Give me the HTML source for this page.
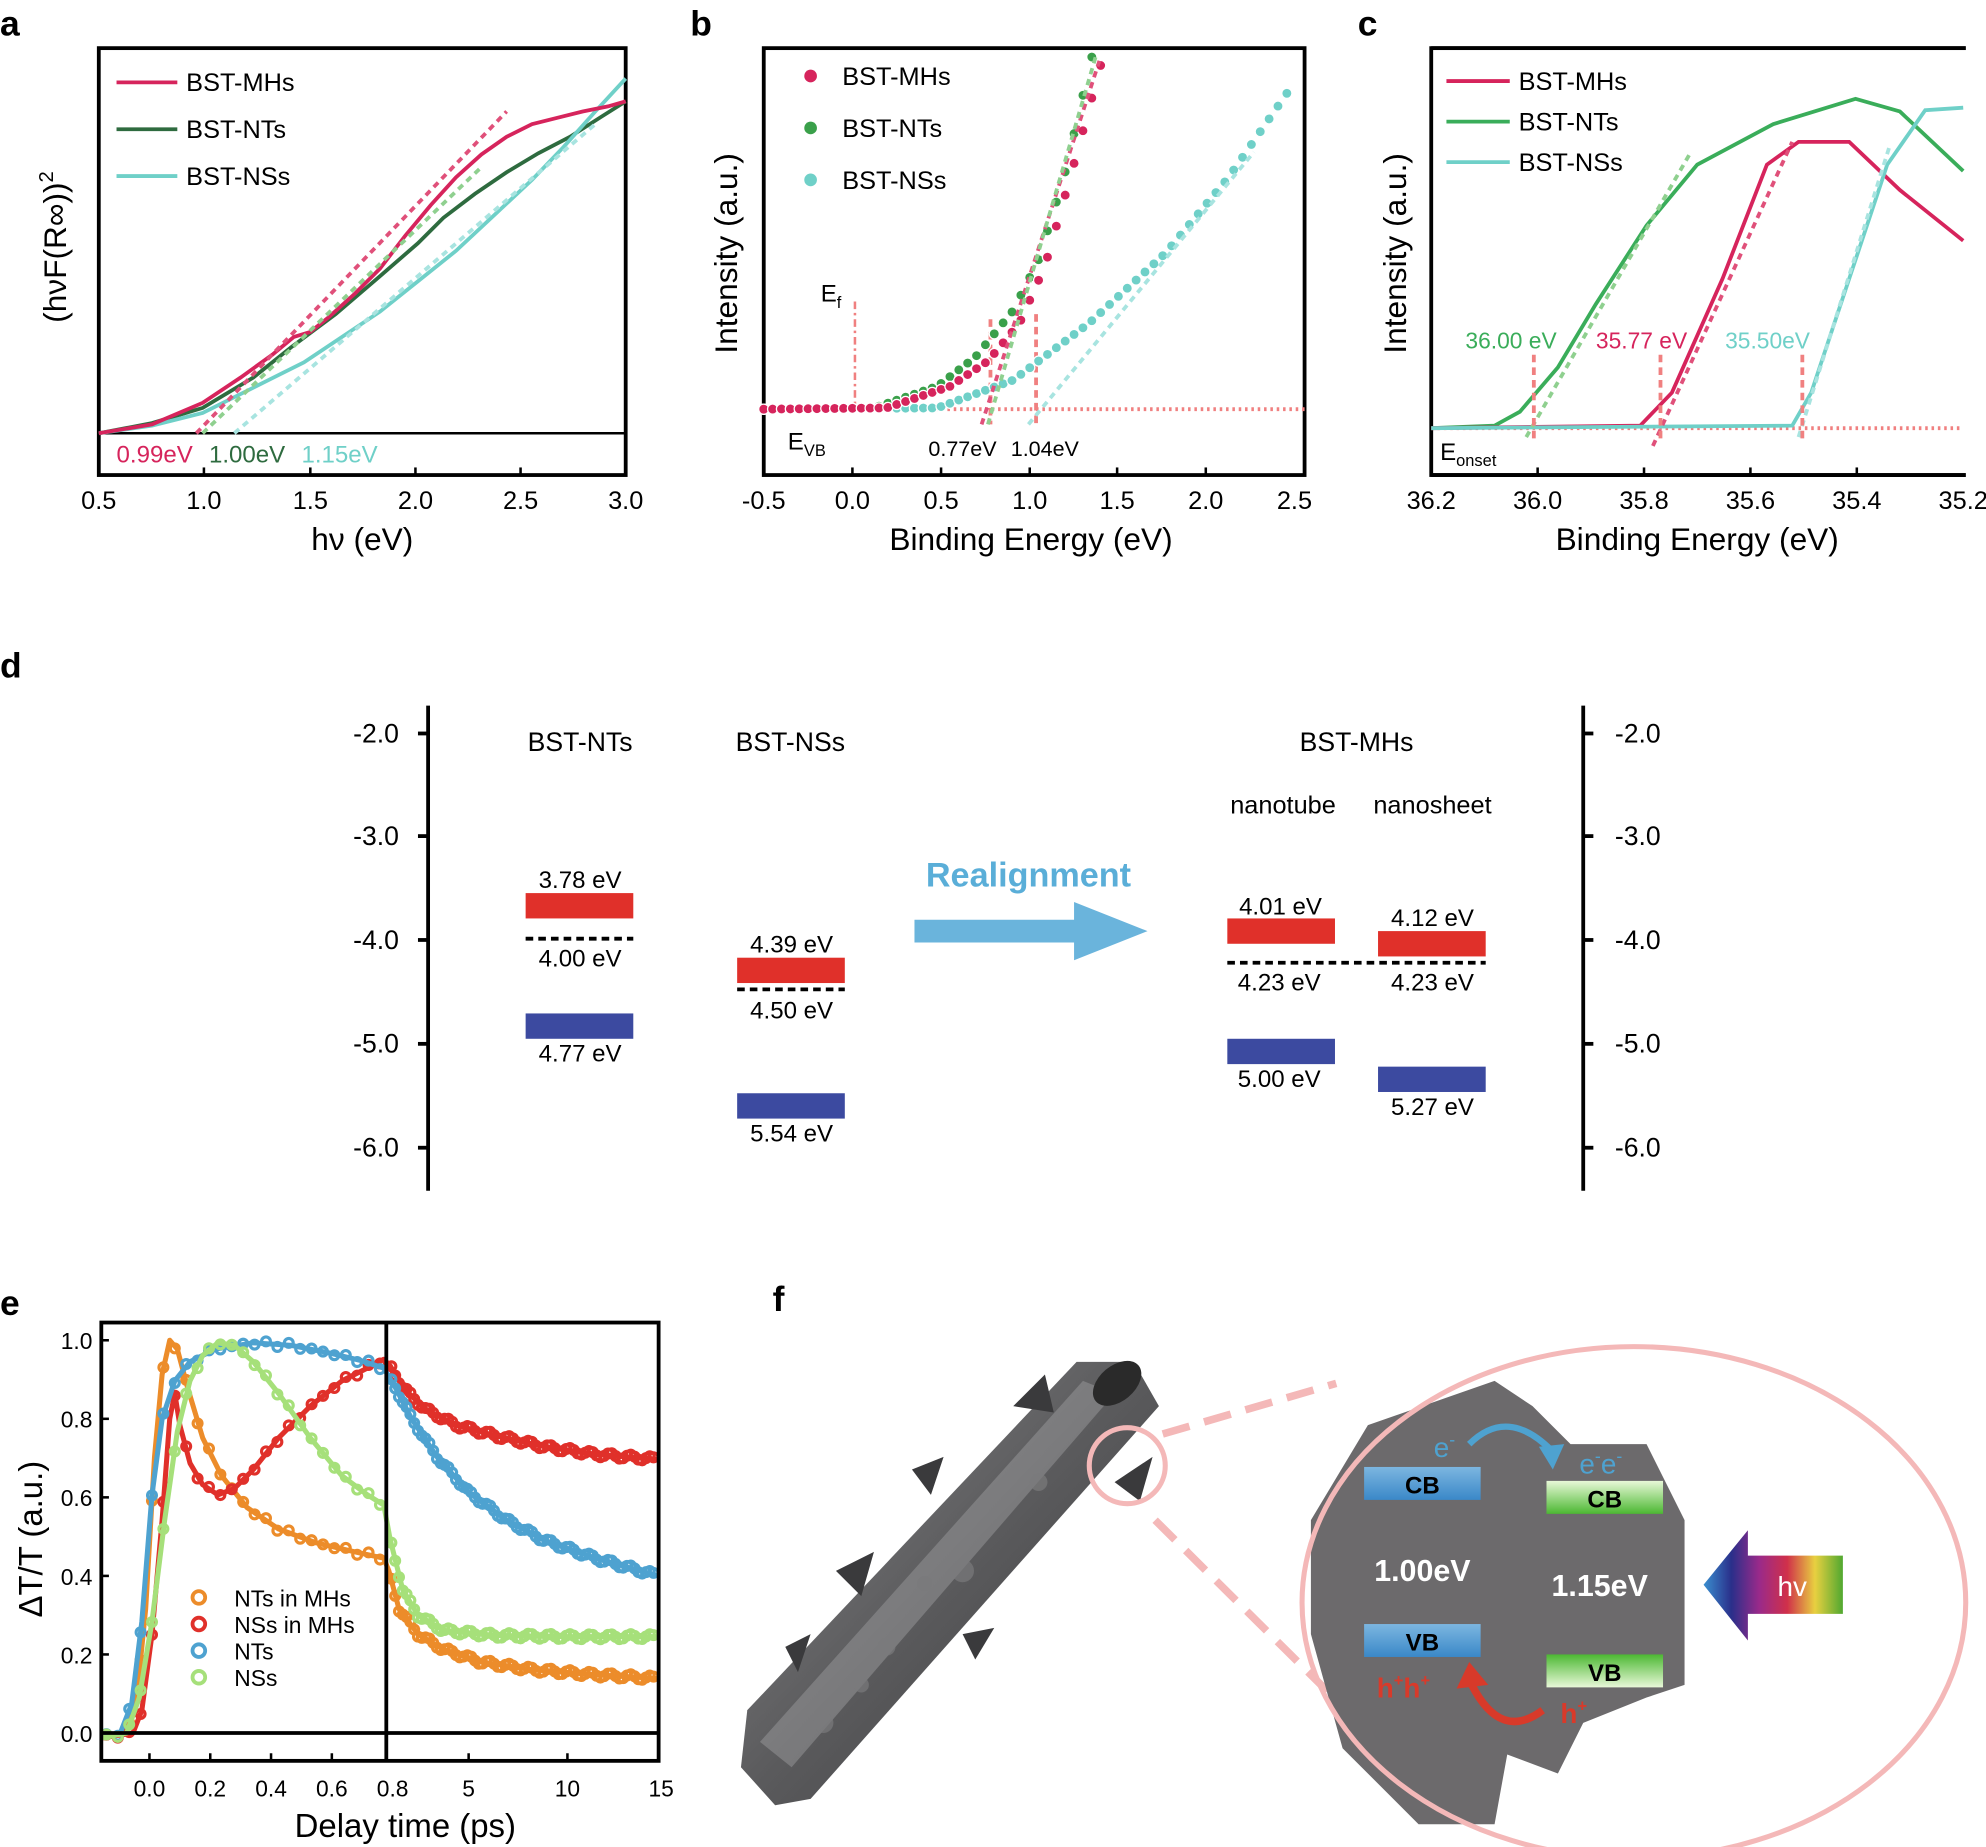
<!DOCTYPE html>
<html><head><meta charset="utf-8"><style>
html,body{margin:0;padding:0;background:#fff}
svg{display:block}
text{font-family:"Liberation Sans",Arial,sans-serif}
</style></head><body>
<svg id="s" width="1986" height="1847" viewBox="0 0 1568 1458" preserveAspectRatio="none" xmlns="http://www.w3.org/2000/svg">
<defs>
<linearGradient id="gb" x1="0" y1="0" x2="0" y2="1"><stop offset="0" stop-color="#7cb6e0"/><stop offset="1" stop-color="#3a88c8"/></linearGradient>
<linearGradient id="gg" x1="0" y1="0" x2="0" y2="1"><stop offset="0" stop-color="#e8f8d8"/><stop offset="1" stop-color="#4cb832"/></linearGradient>
<linearGradient id="gg2" x1="0" y1="0" x2="0" y2="1"><stop offset="0" stop-color="#4cb832"/><stop offset="1" stop-color="#e8f8d8"/></linearGradient>
<linearGradient id="rb" x1="0" y1="0" x2="1" y2="0"><stop offset="0" stop-color="#3a8fd0"/><stop offset=".2" stop-color="#2a2f8a"/><stop offset=".4" stop-color="#9a2a8a"/><stop offset=".6" stop-color="#d0304a"/><stop offset=".8" stop-color="#e8d040"/><stop offset="1" stop-color="#50a830"/></linearGradient>
<linearGradient id="tube" x1="0" y1="0" x2="1" y2="1"><stop offset="0" stop-color="#8a8a8c"/><stop offset=".5" stop-color="#5a5a5c"/><stop offset="1" stop-color="#3a3a3c"/></linearGradient>
</defs>
<g font-size="28" font-weight="bold">
<text x="0" y="28">a</text><text x="545" y="28">b</text><text x="1072" y="28">c</text><text x="0" y="535">d</text><text x="0" y="1038">e</text><text x="610" y="1035">f</text></g>

<!-- panel a -->
<g id="pa">
<rect x="78" y="38" width="416" height="337" fill="none" stroke="#000" stroke-width="3"/>
<line x1="78" y1="342" x2="494" y2="342" stroke="#000" stroke-width="2"/>
<g stroke="#000" stroke-width="2"><line x1="161" y1="375" x2="161" y2="369"/><line x1="245" y1="375" x2="245" y2="369"/><line x1="328" y1="375" x2="328" y2="369"/><line x1="411" y1="375" x2="411" y2="369"/></g>
<polyline fill="none" stroke="#2e6b3f" stroke-width="3" points="78,342 120,334 160,322 200,298 230,274 265,248 300,218 330,192 350,172 375,153 400,136 425,121 450,108 475,92 494,80"/>
<polyline fill="none" stroke="#6fd0c8" stroke-width="3" points="78,342 120,336 160,326 200,306 240,286 270,266 300,246 330,222 360,198 390,170 420,142 445,116 470,88 494,62"/>
<polyline fill="none" stroke="#d6245c" stroke-width="3" points="78,342 120,335 160,318 190,298 215,280 232,266 245,262 260,250 280,232 300,212 320,186 340,162 360,140 380,122 400,108 420,98 440,93 460,88 480,84 494,80"/>
<line x1="155" y1="342" x2="400" y2="88" stroke="#e0507a" stroke-width="3" stroke-dasharray="5,4"/>
<line x1="160" y1="342" x2="380" y2="132" stroke="#8fd08f" stroke-width="3" stroke-dasharray="5,4"/>
<line x1="185" y1="342" x2="470" y2="98" stroke="#a8e4e0" stroke-width="3" stroke-dasharray="5,4"/>
<line x1="92" y1="65" x2="140" y2="65" stroke="#d6245c" stroke-width="3"/><text x="147" y="72" font-size="20">BST-MHs</text>
<line x1="92" y1="102" x2="140" y2="102" stroke="#2e6b3f" stroke-width="3"/><text x="147" y="109" font-size="20">BST-NTs</text>
<line x1="92" y1="139" x2="140" y2="139" stroke="#6fd0c8" stroke-width="3"/><text x="147" y="146" font-size="20">BST-NSs</text>
<text x="92" y="365" font-size="19" fill="#d6245c">0.99eV</text><text x="165" y="365" font-size="19" fill="#2e6b3f">1.00eV</text><text x="238" y="365" font-size="19" fill="#6fd0c8">1.15eV</text>
<g font-size="20" text-anchor="middle"><text x="78" y="402">0.5</text><text x="161" y="402">1.0</text><text x="245" y="402">1.5</text><text x="328" y="402">2.0</text><text x="411" y="402">2.5</text><text x="494" y="402">3.0</text></g>
<text x="286" y="434" font-size="25" text-anchor="middle">hν (eV)</text>
<text transform="translate(52,195) rotate(-90)" font-size="25" text-anchor="middle">(hνF(R∞))<tspan font-size="16" dy="-10">2</tspan></text>
</g>

<!-- panel b -->
<g>
<rect x="603" y="38" width="427" height="337" fill="none" stroke="#000" stroke-width="3"/>
<g stroke="#000" stroke-width="2"><line x1="673" y1="375" x2="673" y2="369"/><line x1="743" y1="375" x2="743" y2="369"/><line x1="813" y1="375" x2="813" y2="369"/><line x1="882" y1="375" x2="882" y2="369"/><line x1="952" y1="375" x2="952" y2="369"/></g>
<line x1="603" y1="323" x2="1030" y2="323" stroke="#f08080" stroke-width="3" stroke-dasharray="2,3"/>
<line x1="675" y1="238" x2="675" y2="323" stroke="#f08080" stroke-width="2" stroke-dasharray="6,3,2,3"/>
<line x1="782" y1="252" x2="782" y2="335" stroke="#f08080" stroke-width="3" stroke-dasharray="6,4"/>
<line x1="818" y1="248" x2="818" y2="335" stroke="#f08080" stroke-width="3" stroke-dasharray="6,4"/>
<g id="bdots"></g>
<line x1="775" y1="335" x2="868" y2="48" stroke="#e0507a" stroke-width="3" stroke-dasharray="5,4"/>
<line x1="780" y1="335" x2="865" y2="45" stroke="#8fd08f" stroke-width="3" stroke-dasharray="5,4"/>
<line x1="812" y1="335" x2="990" y2="120" stroke="#a8e4e0" stroke-width="3" stroke-dasharray="5,4"/>
<circle cx="640" cy="60" r="5" fill="#d6245c"/><text x="665" y="67" font-size="20">BST-MHs</text>
<circle cx="640" cy="101" r="5" fill="#3aa04a"/><text x="665" y="108" font-size="20">BST-NTs</text>
<circle cx="640" cy="142" r="5" fill="#6fd0c8"/><text x="665" y="149" font-size="20">BST-NSs</text>
<text x="648" y="238" font-size="19">E<tspan font-size="13" dy="5">f</tspan></text>
<text x="622" y="355" font-size="19">E<tspan font-size="13" dy="5">VB</tspan></text>
<text x="733" y="360" font-size="17">0.77eV</text><text x="798" y="360" font-size="17">1.04eV</text>
<g font-size="20" text-anchor="middle"><text x="603" y="402">-0.5</text><text x="673" y="402">0.0</text><text x="743" y="402">0.5</text><text x="813" y="402">1.0</text><text x="882" y="402">1.5</text><text x="952" y="402">2.0</text><text x="1022" y="402">2.5</text></g>
<text x="814" y="434" font-size="25" text-anchor="middle">Binding Energy (eV)</text>
<text transform="translate(582,200) rotate(-90)" font-size="25" text-anchor="middle">Intensity (a.u.)</text>
</g>

<!-- panel c -->
<g>
<rect x="1130" y="38" width="440" height="337" fill="none" stroke="#000" stroke-width="3"/>
<rect x="1552" y="30" width="20" height="360" fill="#fff"/>
<line x1="1130" y1="38" x2="1552" y2="38" stroke="#000" stroke-width="3"/>
<line x1="1130" y1="375" x2="1552" y2="375" stroke="#000" stroke-width="3"/>
<g stroke="#000" stroke-width="2"><line x1="1214" y1="375" x2="1214" y2="369"/><line x1="1298" y1="375" x2="1298" y2="369"/><line x1="1382" y1="375" x2="1382" y2="369"/><line x1="1466" y1="375" x2="1466" y2="369"/></g>
<line x1="1130" y1="338" x2="1550" y2="338" stroke="#f08080" stroke-width="3" stroke-dasharray="2,3"/>
<polyline fill="none" stroke="#3aad5a" stroke-width="3" points="1130,338 1180,336 1200,325 1230,290 1260,240 1300,178 1340,130 1400,98 1465,78 1500,88 1550,135"/>
<polyline fill="none" stroke="#d6245c" stroke-width="3" points="1130,338 1295,336 1320,310 1360,220 1395,130 1420,112 1460,112 1500,150 1550,190"/>
<polyline fill="none" stroke="#6fd0c8" stroke-width="3" points="1130,338 1415,336 1430,310 1460,220 1490,130 1520,87 1550,85"/>
<line x1="1205" y1="345" x2="1335" y2="120" stroke="#8fd08f" stroke-width="3" stroke-dasharray="5,4"/>
<line x1="1305" y1="352" x2="1415" y2="112" stroke="#e0507a" stroke-width="3" stroke-dasharray="5,4"/>
<line x1="1420" y1="345" x2="1492" y2="115" stroke="#a8e4e0" stroke-width="3" stroke-dasharray="5,4"/>
<line x1="1211" y1="280" x2="1211" y2="348" stroke="#f08080" stroke-width="3" stroke-dasharray="6,4"/>
<line x1="1311" y1="280" x2="1311" y2="348" stroke="#f08080" stroke-width="3" stroke-dasharray="6,4"/>
<line x1="1423" y1="280" x2="1423" y2="348" stroke="#f08080" stroke-width="3" stroke-dasharray="6,4"/>
<line x1="1142" y1="64" x2="1192" y2="64" stroke="#d6245c" stroke-width="3"/><text x="1199" y="71" font-size="20">BST-MHs</text>
<line x1="1142" y1="96" x2="1192" y2="96" stroke="#3aad5a" stroke-width="3"/><text x="1199" y="103" font-size="20">BST-NTs</text>
<line x1="1142" y1="128" x2="1192" y2="128" stroke="#6fd0c8" stroke-width="3"/><text x="1199" y="135" font-size="20">BST-NSs</text>
<text x="1157" y="275" font-size="18" fill="#3aad5a">36.00 eV</text><text x="1260" y="275" font-size="18" fill="#d6245c">35.77 eV</text><text x="1362" y="275" font-size="18" fill="#6fd0c8">35.50eV</text>
<text x="1137" y="363" font-size="19">E<tspan font-size="13" dy="5">onset</tspan></text>
<g font-size="20" text-anchor="middle"><text x="1130" y="402">36.2</text><text x="1214" y="402">36.0</text><text x="1298" y="402">35.8</text><text x="1382" y="402">35.6</text><text x="1466" y="402">35.4</text><text x="1550" y="402">35.2</text></g>
<text x="1340" y="434" font-size="25" text-anchor="middle">Binding Energy (eV)</text>
<text transform="translate(1110,200) rotate(-90)" font-size="25" text-anchor="middle">Intensity (a.u.)</text>
</g>

<!-- panel d -->
<g font-size="19">
<line x1="338" y1="557" x2="338" y2="940" stroke="#000" stroke-width="3"/>
<line x1="1250" y1="557" x2="1250" y2="940" stroke="#000" stroke-width="3"/>
<g stroke="#000" stroke-width="3">
<line x1="338" y1="579" x2="330" y2="579"/><line x1="338" y1="660" x2="330" y2="660"/><line x1="338" y1="742" x2="330" y2="742"/><line x1="338" y1="824" x2="330" y2="824"/><line x1="338" y1="906" x2="330" y2="906"/>
<line x1="1250" y1="579" x2="1258" y2="579"/><line x1="1250" y1="660" x2="1258" y2="660"/><line x1="1250" y1="742" x2="1258" y2="742"/><line x1="1250" y1="824" x2="1258" y2="824"/><line x1="1250" y1="906" x2="1258" y2="906"/></g>
<g font-size="21" text-anchor="end"><text x="315" y="586">-2.0</text><text x="315" y="667">-3.0</text><text x="315" y="749">-4.0</text><text x="315" y="831">-5.0</text><text x="315" y="913">-6.0</text></g>
<g font-size="21"><text x="1275" y="586">-2.0</text><text x="1275" y="667">-3.0</text><text x="1275" y="749">-4.0</text><text x="1275" y="831">-5.0</text><text x="1275" y="913">-6.0</text></g>
<g font-size="21" text-anchor="middle"><text x="458" y="593">BST-NTs</text><text x="624" y="593">BST-NSs</text><text x="1071" y="593">BST-MHs</text></g>
<g font-size="20" text-anchor="middle"><text x="1013" y="642">nanotube</text><text x="1131" y="642">nanosheet</text></g>
<rect x="415" y="705" width="85" height="20" fill="#e0302a"/><rect x="415" y="800" width="85" height="20" fill="#3c4aa0"/>
<line x1="415" y1="741" x2="500" y2="741" stroke="#000" stroke-width="3" stroke-dasharray="6,4"/>
<g text-anchor="middle"><text x="458" y="701">3.78 eV</text><text x="458" y="763">4.00 eV</text><text x="458" y="838">4.77 eV</text></g>
<rect x="582" y="756" width="85" height="20" fill="#e0302a"/><rect x="582" y="863" width="85" height="20" fill="#3c4aa0"/>
<line x1="582" y1="781" x2="667" y2="781" stroke="#000" stroke-width="3" stroke-dasharray="6,4"/>
<g text-anchor="middle"><text x="625" y="752">4.39 eV</text><text x="625" y="804">4.50 eV</text><text x="625" y="901">5.54 eV</text></g>
<rect x="969" y="725" width="85" height="20" fill="#e0302a"/><rect x="969" y="820" width="85" height="20" fill="#3c4aa0"/>
<rect x="1088" y="735" width="85" height="20" fill="#e0302a"/><rect x="1088" y="842" width="85" height="20" fill="#3c4aa0"/>
<line x1="969" y1="760" x2="1173" y2="760" stroke="#000" stroke-width="3" stroke-dasharray="6,4"/>
<g text-anchor="middle"><text x="1011" y="722">4.01 eV</text><text x="1010" y="782">4.23 eV</text><text x="1010" y="858">5.00 eV</text>
<text x="1131" y="731">4.12 eV</text><text x="1131" y="782">4.23 eV</text><text x="1131" y="880">5.27 eV</text></g>
<text x="812" y="700" font-size="27" font-weight="bold" fill="#5aaed8" text-anchor="middle">Realignment</text>
<polygon points="722,726 848,726 848,712 906,735 848,758 848,744 722,744" fill="#6ab4dc"/>
</g>

<!-- panel e -->
<g>
<g id="edots"></g>
<rect x="80" y="1044" width="440" height="346" fill="none" stroke="#000" stroke-width="3"/>
<line x1="80" y1="1368" x2="520" y2="1368" stroke="#000" stroke-width="3"/>
<line x1="305" y1="1044" x2="305" y2="1390" stroke="#000" stroke-width="3"/>
<g stroke="#000" stroke-width="2"><line x1="80" y1="1058" x2="86" y2="1058"/><line x1="80" y1="1120" x2="86" y2="1120"/><line x1="80" y1="1182" x2="86" y2="1182"/><line x1="80" y1="1244" x2="86" y2="1244"/><line x1="80" y1="1306" x2="86" y2="1306"/>
<line x1="118" y1="1390" x2="118" y2="1384"/><line x1="166" y1="1390" x2="166" y2="1384"/><line x1="214" y1="1390" x2="214" y2="1384"/><line x1="262" y1="1390" x2="262" y2="1384"/><line x1="370" y1="1390" x2="370" y2="1384"/><line x1="448" y1="1390" x2="448" y2="1384"/></g>
<g font-size="18" text-anchor="end"><text x="73" y="1065">1.0</text><text x="73" y="1127">0.8</text><text x="73" y="1189">0.6</text><text x="73" y="1251">0.4</text><text x="73" y="1313">0.2</text><text x="73" y="1375">0.0</text></g>
<g font-size="18" text-anchor="middle"><text x="118" y="1418">0.0</text><text x="166" y="1418">0.2</text><text x="214" y="1418">0.4</text><text x="262" y="1418">0.6</text><text x="310" y="1418">0.8</text><text x="370" y="1418">5</text><text x="448" y="1418">10</text><text x="522" y="1418">15</text></g>
<text x="320" y="1450" font-size="26" text-anchor="middle">Delay time (ps)</text>
<text transform="translate(33,1215) rotate(-90)" font-size="26" text-anchor="middle">ΔT/T (a.u.)</text>
<g font-size="18"><circle cx="157" cy="1261" r="5" fill="none" stroke="#ec8c2a" stroke-width="3"/><text x="185" y="1268">NTs in MHs</text>
<circle cx="157" cy="1282" r="5" fill="none" stroke="#e0302a" stroke-width="3"/><text x="185" y="1289">NSs in MHs</text>
<circle cx="157" cy="1303" r="5" fill="none" stroke="#4ea2d0" stroke-width="3"/><text x="185" y="1310">NTs</text>
<circle cx="157" cy="1324" r="5" fill="none" stroke="#a6e07a" stroke-width="3"/><text x="185" y="1331">NSs</text></g>
</g>

<!-- panel f -->
<g>
<polygon points="585,1395 612,1425 640,1420 915,1110 895,1075 850,1075 590,1350" fill="url(#tube)"/>
<polygon points="600,1375 855,1090 880,1100 625,1395" fill="#9a9a9c" opacity=".5"/>
<g fill="#7a7a7c" opacity=".7"><circle cx="650" cy="1360" r="8"/><circle cx="700" cy="1300" r="7"/><circle cx="760" cy="1240" r="9"/><circle cx="820" cy="1170" r="7"/><circle cx="730" cy="1250" r="6"/><circle cx="680" cy="1330" r="6"/></g>
<ellipse cx="882" cy="1092" rx="22" ry="14" fill="#2a2a2a" transform="rotate(-40 882 1092)"/>
<g fill="#3a3a3c"><polygon points="800,1110 825,1085 832,1115"/><polygon points="660,1240 690,1225 680,1260"/><polygon points="760,1290 785,1285 770,1310"/><polygon points="880,1170 910,1150 900,1185"/><polygon points="620,1300 640,1290 630,1320"/><polygon points="720,1160 745,1150 735,1180"/></g>
<circle cx="890" cy="1157" r="30" fill="none" stroke="#f4b8b8" stroke-width="4"/>
<line x1="918" y1="1132" x2="1055" y2="1092" stroke="#f4b8b8" stroke-width="6" stroke-dasharray="22,12"/>
<line x1="912" y1="1200" x2="1048" y2="1335" stroke="#f4b8b8" stroke-width="6" stroke-dasharray="22,12"/>
<path d="M1080,1125 L1180,1090 L1210,1110 L1240,1140 L1300,1140 L1330,1200 L1330,1330 L1300,1340 L1250,1360 L1230,1400 L1190,1385 L1180,1440 L1120,1440 L1060,1380 L1035,1290 L1035,1200 Z" fill="#6c6a6c"/>
<ellipse cx="1290" cy="1265" rx="262" ry="202" fill="none" stroke="#f4b8b8" stroke-width="4"/>
<rect x="1077" y="1158" width="92" height="26" fill="url(#gb)"/><text x="1123" y="1179" font-size="19" font-weight="bold" text-anchor="middle">CB</text>
<rect x="1077" y="1282" width="92" height="26" fill="url(#gb)"/><text x="1123" y="1303" font-size="19" font-weight="bold" text-anchor="middle">VB</text>
<rect x="1221" y="1169" width="92" height="26" fill="url(#gg)"/><text x="1267" y="1190" font-size="19" font-weight="bold" text-anchor="middle">CB</text>
<rect x="1221" y="1306" width="92" height="26" fill="url(#gg2)"/><text x="1267" y="1327" font-size="19" font-weight="bold" text-anchor="middle">VB</text>
<text x="1123" y="1248" font-size="24" font-weight="bold" fill="#fff" text-anchor="middle">1.00eV</text>
<text x="1263" y="1260" font-size="24" font-weight="bold" fill="#fff" text-anchor="middle">1.15eV</text>
<text x="1132" y="1150" font-size="22" fill="#4ea2d0">e<tspan font-size="14" dy="-9">-</tspan></text>
<text x="1247" y="1163" font-size="22" fill="#4ea2d0">e<tspan font-size="14" dy="-9">-</tspan><tspan dy="9" font-size="22">e</tspan><tspan font-size="14" dy="-9">-</tspan></text>
<path d="M1160,1140 Q1190,1110 1225,1145" fill="none" stroke="#4ea2d0" stroke-width="5"/>
<polygon points="1215,1142 1235,1140 1226,1160" fill="#4ea2d0"/>
<text x="1087" y="1340" font-size="22" font-weight="bold" fill="#d83a2a">h<tspan font-size="13" dy="-9">+</tspan><tspan dy="9">h</tspan><tspan font-size="13" dy="-9">+</tspan></text>
<text x="1232" y="1360" font-size="22" font-weight="bold" fill="#d83a2a">h<tspan font-size="13" dy="-9">+</tspan></text>
<path d="M1218,1350 Q1185,1375 1162,1330" fill="none" stroke="#d83a2a" stroke-width="6"/>
<polygon points="1150,1333 1160,1312 1175,1330" fill="#d83a2a"/>
<polygon points="1345,1251 1380,1208 1380,1228 1455,1228 1455,1274 1380,1274 1380,1295" fill="url(#rb)"/>
<text x="1415" y="1260" font-size="22" fill="#fff" text-anchor="middle">hv</text>
</g>
</svg>
<script>
var NS="http://www.w3.org/2000/svg";
function interp(pts,x){for(var i=0;i<pts.length-1;i++){if(x>=pts[i][0]&&x<=pts[i+1][0]){var t=(x-pts[i][0])/(pts[i+1][0]-pts[i][0]);return pts[i][1]+t*(pts[i+1][1]-pts[i][1]);}}return pts[pts.length-1][1];}
function dot(g,x,y,r,fill,stroke,sw){var c=document.createElementNS(NS,"circle");c.setAttribute("cx",x);c.setAttribute("cy",y);c.setAttribute("r",r);c.setAttribute("fill",fill);if(stroke){c.setAttribute("stroke",stroke);c.setAttribute("stroke-width",sw);}g.appendChild(c);}
function pl(g,pts,col,w){var p=document.createElementNS(NS,"polyline");p.setAttribute("points",pts.map(function(a){return a.join(",")}).join(" "));p.setAttribute("fill","none");p.setAttribute("stroke",col);p.setAttribute("stroke-width",w);p.setAttribute("stroke-linejoin","round");g.appendChild(p);}
var b=document.getElementById("bdots");
var ns=[[603,323],[740,322],[800,300],[860,255],[920,200],[970,140],[1022,65]];
var nt=[[603,323],[690,322],[740,305],[770,282],[800,245],[820,205],[840,140],[862,45]];
var mh=[[603,323],[700,322],[750,305],[780,285],[805,255],[825,210],[845,140],[870,48]];
for(var x=603;x<=1022;x+=7)dot(b,x,interp(ns,x),4,"#6fd0c8","#fff",1);
for(var x=603;x<=862;x+=7)dot(b,x,interp(nt,x),4,"#3aa04a","#fff",1);
for(var x=603;x<=870;x+=7)dot(b,x,interp(mh,x),4,"#d6245c","#fff",1);
var e=document.getElementById("edots");
var O=[[80,1372],[100,1368],[108,1340],[115,1270],[122,1150],[128,1085],[134,1058],[140,1065],[148,1095],[160,1135],[175,1165],[195,1190],[220,1207],[250,1218],[280,1225],[303,1230],[307,1240],[315,1270],[330,1290],[350,1302],[380,1312],[420,1318],[470,1322],[520,1325]];
var R=[[80,1372],[105,1368],[112,1350],[120,1290],[128,1200],[134,1120],[138,1100],[142,1125],[150,1155],[160,1172],[172,1180],[185,1175],[200,1160],[220,1135],[245,1110],[270,1090],[290,1080],[303,1073],[308,1078],[318,1095],[335,1112],[360,1125],[390,1133],[430,1142],[470,1148],[520,1152]];
var B=[[80,1372],[95,1368],[104,1345],[112,1280],[120,1180],[128,1120],[138,1090],[150,1075],[170,1065],[200,1060],[230,1062],[260,1068],[285,1074],[303,1080],[312,1095],[325,1120],[345,1150],[370,1178],[400,1200],[430,1216],[470,1230],[520,1244]];
var G=[[80,1372],[100,1368],[110,1340],[120,1280],[130,1200],[140,1130],[150,1090],[160,1070],[172,1060],[185,1062],[200,1075],[220,1100],[245,1135],[270,1165],[290,1180],[303,1188],[308,1215],[318,1255],[330,1275],[350,1287],[390,1291],[450,1292],[520,1292]];
[[O,"#ec8c2a"],[R,"#e0302a"],[B,"#4ea2d0"],[G,"#a6e07a"]].forEach(function(s){
for(var x=84;x<=518;x+=(x<305?9:3)){var y=interp(s[0],x)+(Math.sin(x*1.7)*2);dot(e,x,y,3.5,"none",s[1],2.5);}
pl(e,s[0],s[1],4);});
</script>
</body></html>
